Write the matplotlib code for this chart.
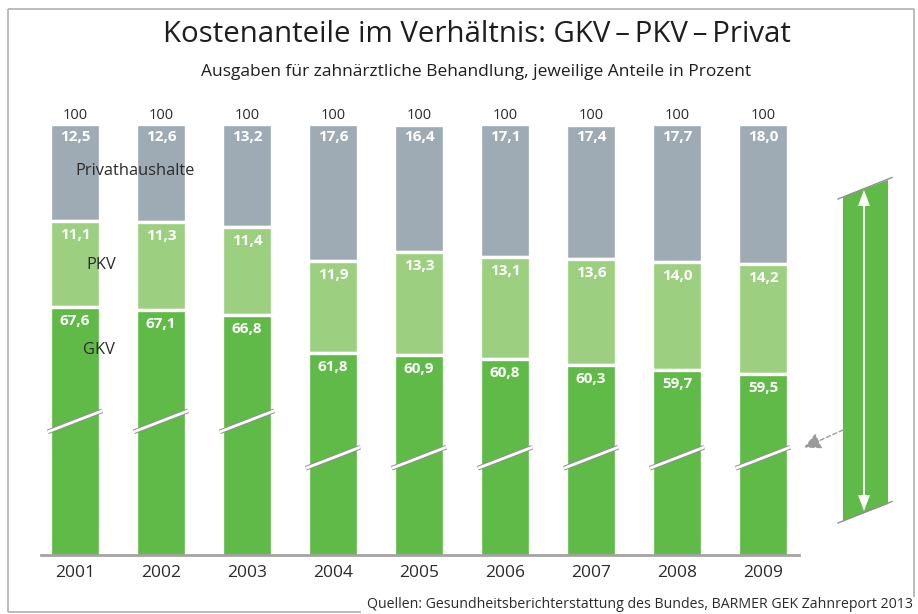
import numpy as np
import matplotlib
matplotlib.use("Agg")
import matplotlib.pyplot as plt
from matplotlib.patches import Polygon

# ---- data ----
years = ["2001", "2002", "2003", "2004", "2005", "2006", "2007", "2008", "2009"]
gkv = [67.6, 67.1, 66.8, 61.8, 60.9, 60.8, 60.3, 59.7, 59.5]
pkv = [11.1, 11.3, 11.4, 11.9, 13.3, 13.1, 13.6, 14.0, 14.2]
privat = [12.5, 12.6, 13.2, 17.6, 16.4, 17.1, 17.4, 17.7, 18.0]
totals = [100] * 9

def fmt(v):
    return f"{v:.1f}".replace(".", ",")

plt.rcParams["font.family"] = ["Open Sans", "DejaVu Sans"]

C_GRAY = "#9eabb4"
C_LGREEN = "#9ccf80"
C_GREEN = "#60ba47"
C_TEXT = "#2b2b2b"
C_LINE = "#a3a3a3"

W, H = 918, 614
fig = plt.figure(figsize=(W / 100, H / 100), dpi=100)

PX = 7.75          # pixels per percentage point
top_px, base_px = 124.5, 555
ax = fig.add_axes([41 / W, (H - base_px) / H, (799 - 41) / W, (base_px - top_px) / H])
ylo = 100 - (base_px - top_px) / PX
ax.set_xlim(-0.395, 8.419)
ax.set_ylim(ylo, 100)

x = np.arange(len(years))
tot = np.array(totals, float)
pr = np.array(privat)
pk = np.array(pkv)
gk = np.array(gkv)
priv_bottom = tot - pr
pkv_bottom = priv_bottom - pk
gkv_bottom = pkv_bottom - gk

bw = 0.573
lw = 2.4
ax.bar(x, pr, bottom=priv_bottom, width=bw, color=C_GRAY, edgecolor="white", linewidth=lw, zorder=2)
ax.bar(x, pk, bottom=pkv_bottom, width=bw, color=C_LGREEN, edgecolor="white", linewidth=lw, zorder=2)
ax.bar(x, gk, bottom=gkv_bottom, width=bw, color=C_GREEN, edgecolor="white", linewidth=lw, zorder=2)

off = 12.5 / PX
for i in range(len(years)):
    ax.text(x[i], tot[i] - off, fmt(pr[i]), ha="center", va="center", color="white",
            fontsize=11, fontweight="bold", zorder=5)
    ax.text(x[i], priv_bottom[i] - off - 0.2, fmt(pk[i]), ha="center", va="center", color="white",
            fontsize=11, fontweight="bold", zorder=5)
    ax.text(x[i], pkv_bottom[i] - off - 0.2, fmt(gk[i]), ha="center", va="center", color="white",
            fontsize=11, fontweight="bold", zorder=5)
    ax.text(x[i], tot[i] + 9.5 / PX, f"{totals[i]}", ha="center", va="center", color=C_TEXT,
            fontsize=10.5)

# axis-break marks
break_y = [61.7, 61.7, 61.7, 57.0, 57.0, 57.0, 57.0, 57.0, 57.0]
hw, hr = 0.316, 10.5 / PX
for i in range(len(years)):
    xs = [x[i] - hw, x[i] + hw]
    ys = [break_y[i] - hr, break_y[i] + hr]
    ax.plot(xs, ys, color="#8f8f8f", lw=3.4, solid_capstyle="butt", zorder=6, clip_on=False)
    ax.plot(xs, ys, color="white", lw=2.0, solid_capstyle="butt", zorder=7, clip_on=False)

# series labels
ax.text(-0.0, 100 - (171 - top_px) / PX, "Privathaushalte", ha="left", va="center",
        color=C_TEXT, fontsize=11.8, zorder=8)
ax.text(0.13, 100 - (265 - top_px) / PX, "PKV", ha="left", va="center",
        color=C_TEXT, fontsize=11.8, zorder=8)
ax.text(0.09, 100 - (350 - top_px) / PX, "GKV", ha="left", va="center",
        color=C_TEXT, fontsize=11.8, zorder=8)

for s in ["top", "left", "right"]:
    ax.spines[s].set_visible(False)
ax.spines["bottom"].set_color(C_LINE)
ax.spines["bottom"].set_linewidth(2.0)
ax.spines["bottom"].set_zorder(9)
ax.set_yticks([])
ax.set_xticks(x)
ax.set_xticklabels(years, fontsize=12.5, color=C_TEXT)
ax.tick_params(axis="x", length=0, pad=7)
ax.patch.set_alpha(0)

# ---- overlay for frame, titles and decoration ----
ov = fig.add_axes([0, 0, 1, 1], zorder=10)
ov.set_xlim(0, W)
ov.set_ylim(H, 0)
ov.axis("off")
ov.patch.set_alpha(0)

fr = dict(color="#b0b0b0", lw=1.2, solid_capstyle="butt")
ov.plot([8, 8], [9, 612], **fr)
ov.plot([8, 914], [9, 9], **fr)
ov.plot([914, 914], [9, 597], **fr)
ov.plot([8, 361], [612, 612], **fr)

ov.text(477, 34, "Kostenanteile im Verhältnis: GKV\u2009\u2013\u2009PKV\u2009\u2013\u2009Privat",
        ha="center", va="center", fontsize=21.2, color="#1e1e1e")
ov.text(476, 72, "Ausgaben für zahnärztliche Behandlung, jeweilige Anteile in Prozent",
        ha="center", va="center", fontsize=12.5, color="#1e1e1e")
ov.text(913, 605, "Quellen: Gesundheitsberichterstattung des Bundes, BARMER GEK Zahnreport 2013",
        ha="right", va="center", fontsize=10.2, color=C_TEXT)

# right-hand decoration
ov.add_patch(Polygon([(843, 197), (888, 180), (888, 504), (843, 521)], closed=True,
                     facecolor=C_GREEN, edgecolor="none"))
ov.plot([838, 892], [199, 177.5], color="#8f8f8f", lw=1.0)
ov.plot([838, 892], [523, 501.5], color="#8f8f8f", lw=1.0)
ov.plot([864, 864], [204, 497], color="white", lw=1.3)
ov.add_patch(Polygon([(864, 190), (858, 206), (870, 206)], closed=True, facecolor="white", edgecolor="none"))
ov.add_patch(Polygon([(864, 511), (858, 495), (870, 495)], closed=True, facecolor="white", edgecolor="none"))

ov.annotate("", xy=(804, 447.5), xytext=(843, 430),
            arrowprops=dict(arrowstyle="-|>,head_length=1.0,head_width=0.5", color="#9a9a9a",
                            lw=1.0, linestyle=(0, (3, 2)), shrinkA=0, shrinkB=0))

fig.savefig("out.png", dpi=100)
